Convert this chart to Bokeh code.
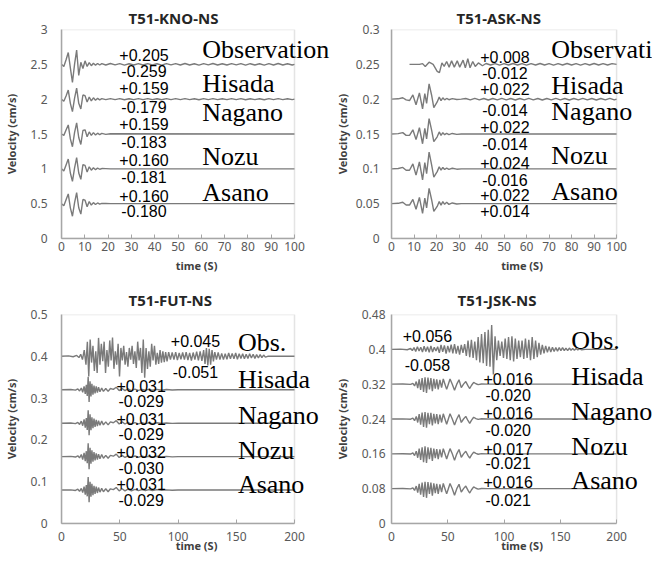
from bokeh.plotting import figure
from bokeh.layouts import column, row
from bokeh.models import Range1d, FixedTicker, Label, NumeralTickFormatter, BoxAnnotation
from bokeh.embed import file_html
from bokeh.resources import INLINE

# ---------------- common ----------------
trace_names = ["Observation", "Hisada", "Nagano", "Nozu", "Asano"]
trace_names_short = ["Obs.", "Hisada", "Nagano", "Nozu", "Asano"]

# ---------------- T51-KNO-NS ----------------
kno_xticks = [0, 10, 20, 30, 40, 50, 60, 70, 80, 90, 100]
kno_yticks = [0, 0.5, 1, 1.5, 2, 2.5, 3]
kno_base = [2.5, 2.0, 1.5, 1.0, 0.5]
kno_t = [0, 1.0, 2.0, 2.9, 3.8, 4.7, 5.6, 6.5, 7.4, 8.3, 9.2, 10.1, 11.0, 11.9, 12.8, 13.7, 14.6, 15.5, 16.4, 17.3]
kno_obs = [0, -0.03, 0.07, 0.17, -0.05, -0.259, 0.0, 0.205, -0.16, 0.03, -0.06, 0.05, -0.03, 0.025, -0.02, 0.015, -0.012, 0.012, -0.01, 0.01]
kno_hisada = [0, -0.03, 0.05, 0.13, -0.06, -0.179, 0.01, 0.159, -0.06, -0.14, 0.06, 0.05, -0.04, 0.03, -0.025, 0.02, -0.015, 0.012, -0.01, 0.008]
kno_nagano = [0, -0.02, 0.06, 0.13, -0.07, -0.183, 0.02, 0.159, -0.05, -0.15, 0.05, 0.06, -0.04, 0.03, -0.02, 0.02, -0.015, 0.012, -0.01, 0.008]
kno_nozu = [0, -0.03, 0.06, 0.14, -0.06, -0.181, 0.01, 0.160, -0.06, -0.15, 0.06, 0.05, -0.045, 0.03, -0.02, 0.015, -0.012, 0.01, -0.006, 0.004]
kno_asano = [0, -0.03, 0.06, 0.14, -0.06, -0.180, 0.01, 0.160, -0.06, -0.15, 0.06, 0.05, -0.045, 0.03, -0.02, 0.015, -0.012, 0.01, -0.006, 0.004]
kno_tail_t = [19, 21, 23, 25, 27, 29, 31, 33, 35, 37, 39, 41, 43, 45, 47, 49, 51, 53, 55, 57,
              59, 61, 63, 65, 67, 69, 71, 73, 75, 77, 79, 81, 83, 85, 87, 89, 91, 93, 95, 97, 99, 100]
kno_obs_tail = [-0.01, 0.012, -0.008, 0.01, -0.012, 0.008, -0.01, 0.01, -0.009, 0.011,
                -0.01, 0.008, -0.012, 0.01, -0.008, 0.01, -0.01, 0.012, -0.009, 0.008,
                -0.011, 0.01, -0.008, 0.012, -0.01, 0.009, -0.01, 0.011, -0.008, 0.01,
                -0.012, 0.009, -0.01, 0.008, -0.011, 0.01, -0.009, 0.012, -0.01, 0.008, -0.01, 0]
kno_hisada_tail = [-0.007, 0.008, -0.006, 0.007, -0.008, 0.006, -0.007, 0.007, -0.006, 0.008,
                   -0.007, 0.006, -0.008, 0.007, -0.006, 0.007, -0.007, 0.008, -0.006, 0.006,
                   -0.008, 0.007, -0.006, 0.008, -0.007, 0.006, -0.007, 0.008, -0.006, 0.007,
                   -0.008, 0.006, -0.007, 0.006, -0.008, 0.007, -0.006, 0.008, -0.007, 0.006, -0.007, 0]
kno_end_t = [19, 21, 100]
kno_nagano_end = [-0.006, 0.004, 0]
kno_nozu_end = [0.003, 0, 0]
kno_asano_end = [0.003, 0, 0]
kno_peak_text = ["+0.205", "-0.259", "+0.159", "-0.179", "+0.159", "-0.183", "+0.160", "-0.181", "+0.160", "-0.180"]
kno_peak_y = [2.635, 2.41, 2.16, 1.89, 1.645, 1.38, 1.13, 0.88, 0.617, 0.39]
kno_peak_x = [35.4] * 10
kno_name_y = [2.71, 2.23, 1.81, 1.18, 0.665]
kno_name_x = 60.4

# ---------------- T51-ASK-NS ----------------
ask_xticks = [0, 10, 20, 30, 40, 50, 60, 70, 80, 90, 100]
ask_yticks = [0, 0.05, 0.1, 0.15, 0.2, 0.25, 0.3]
ask_base = [0.25, 0.2, 0.15, 0.1, 0.05]
ask_obs_t = [8, 12.4, 13.8, 15.0, 16.7, 18.5, 20.3, 21.3, 22.4, 23.4,
             24.5, 25.6, 26.7, 27.9, 29.2, 30.3, 31.8, 32.8, 33.9, 34.9,
             36.1, 37.2, 38.6, 40.4, 42, 44, 46, 48, 50, 52,
             54, 56, 58, 60, 62, 64, 66, 68, 70, 72,
             74, 76, 78, 80, 82, 84, 86, 88, 90, 92,
             94, 96, 98, 100]
ask_obs = [0, 0, 0.001, -0.003, 0.003, 0.0, -0.010, -0.012, 0.002, -0.003,
           0.004, -0.004, 0.005, -0.004, 0.005, -0.004, 0.006, -0.005, 0.008, -0.005,
           0.004, -0.003, 0.002, -0.002, 0.0012, -0.001, 0.001, -0.0012, 0.001, -0.001,
           0.0012, -0.001, 0.001, -0.0012, 0.001, -0.001, 0.0012, -0.001, 0.001, -0.0012,
           0.001, -0.001, 0.0012, -0.001, 0.001, -0.0012, 0.001, -0.001, 0.0012, -0.001,
           0.001, -0.001, 0.001, 0]
ask_t = [0, 3, 5, 6.5, 8.0, 9.5, 10.9, 12.4, 13.8, 14.8,
         15.6, 16.7, 17.8, 18.8, 20.3, 21.2, 22.0, 22.8, 23.6, 24.5,
         25.5, 27, 29, 31]
ask_hisada = [0, 0.0005, 0.002, -0.001, -0.002, 0.006, -0.008, 0.009, -0.014, 0.008,
              -0.006, 0.022, 0.006, -0.012, -0.004, 0.003, -0.002, 0.002, -0.001, 0.001,
              -0.0008, 0.0008, -0.0005, 0]
ask_nagano = [0, 0.0005, 0.002, -0.002, -0.002, 0.006, -0.008, 0.009, -0.014, 0.008,
              -0.007, 0.022, 0.006, -0.011, -0.004, 0.003, -0.002, 0.002, -0.001, 0.001,
              -0.0008, 0.0008, -0.0005, 0]
ask_nozu = [0, 0.0005, 0.002, -0.002, -0.002, 0.007, -0.009, 0.010, -0.016, 0.009,
            -0.007, 0.024, 0.006, -0.012, -0.004, 0.003, -0.002, 0.002, -0.001, 0.001,
            -0.0008, 0.0008, -0.0005, 0]
ask_asano = [0, 0.0005, 0.002, -0.002, -0.002, 0.006, -0.008, 0.009, -0.014, 0.008,
             -0.006, 0.022, 0.006, -0.011, -0.004, 0.003, -0.002, 0.003, -0.001, 0.002,
             -0.001, 0.001, -0.0005, 0]
ask_tail_t = [33, 35, 37, 39, 41, 43, 45, 47, 49, 51, 53, 55, 57, 59, 61, 63, 65, 67, 69, 71,
              73, 75, 77, 79, 81, 83, 85, 87, 89, 91, 93, 95, 97, 99, 100]
ask_hisada_tail = [0.001, -0.001, 0.0012, -0.001, 0.001, -0.0012, 0.001, -0.001, 0.0012, -0.001,
                   0.001, -0.0012, 0.001, -0.001, 0.0012, -0.001, 0.001, -0.0012, 0.001, -0.001,
                   0.0012, -0.001, 0.001, -0.0012, 0.001, -0.001, 0.0012, -0.001, 0.001, -0.0012,
                   0.001, -0.001, 0.0012, -0.001, 0]
ask_end_t = [100]
ask_end = [0]
ask_peak_text = ["+0.008", "-0.012", "+0.022", "-0.014", "+0.022", "-0.014", "+0.024", "-0.016", "+0.022", "+0.014"]
ask_peak_y = [0.2605, 0.238, 0.214, 0.185, 0.160, 0.135, 0.109, 0.084, 0.063, 0.039]
ask_peak_x = [50.4] * 10
ask_name_y = [0.271, 0.22, 0.183, 0.119, 0.0676]
ask_name_x = 71

# ---------------- T51-FUT-NS ----------------
fut_xticks = [0, 50, 100, 150, 200]
fut_yticks = [0, 0.1, 0.2, 0.3, 0.4, 0.5]
fut_base = [0.4, 0.32, 0.24, 0.16, 0.08]
fut_obs_t = [0, 6, 10, 13, 15, 16.5, 18, 19.5, 21, 22.2,
             23.4, 24.6, 25.8, 27, 28.2, 29.4, 30.6, 31.8, 33, 34.2,
             35.4, 36.6, 37.8, 39, 40.2, 41.4, 42.6, 43.8, 45, 46.2,
             47.4, 48.6, 49.8, 51, 52.2, 53.4, 54.6, 55.8, 57, 58.2,
             59.4, 60.6, 61.8, 63, 64.2, 65.4, 66.6, 67.8, 69, 70.2,
             71.4, 72.6, 73.8, 75, 76.2, 77.4, 78.6, 79.8, 81, 82.2,
             83.4, 84.6, 85.8, 87, 88.2, 89.4, 90.6, 92, 93.5, 95,
             96.5, 98, 99.5, 101, 102.5, 104, 105.5, 107, 108.5, 110,
             111.5, 113, 114.5, 116, 117.5, 119, 120.5, 122, 123.2, 124.4,
             125.6, 126.8, 128, 129.2, 130.4, 131.6, 133, 134.5, 136, 137.5,
             139, 140.5, 142, 143.5, 145, 146.5, 148, 149.5, 151, 152.5,
             154, 155.5, 157, 158.5, 160, 161.5, 163, 164.5, 166, 167.5,
             169, 170.5, 172, 173.5, 175, 177, 200]
fut_obs = [0, 0.001, -0.001, 0.002, -0.003, 0.005, -0.008, 0.015, -0.02, 0.035,
           -0.048, 0.04, -0.015, 0.025, -0.035, 0.012, -0.04, 0.044, -0.02, 0.03,
           -0.012, 0.035, -0.04, 0.015, -0.025, 0.038, -0.01, 0.045, -0.03, 0.012,
           -0.02, 0.03, -0.048, 0.02, -0.01, 0.025, -0.02, 0.01, -0.025, 0.02,
           -0.008, 0.025, -0.018, 0.012, -0.028, 0.035, -0.01, 0.02, -0.04, 0.04,
           -0.051, 0.02, -0.03, 0.012, -0.025, 0.03, -0.01, 0.025, -0.02, 0.008,
           -0.018, 0.015, -0.015, 0.012, -0.014, 0.01, -0.012, 0.01, -0.008, 0.009,
           -0.008, 0.01, -0.009, 0.008, -0.007, 0.009, -0.008, 0.01, -0.009, 0.008,
           -0.01, 0.009, -0.008, 0.011, -0.01, 0.012, -0.011, 0.015, -0.018, 0.02,
           -0.022, 0.018, -0.02, 0.015, -0.012, 0.01, -0.008, 0.009, -0.008, 0.007,
           -0.008, 0.006, -0.007, 0.008, -0.006, 0.007, -0.006, 0.008, -0.007, 0.006,
           -0.005, 0.006, -0.006, 0.005, -0.005, 0.006, -0.004, 0.005, -0.005, 0.004,
           -0.004, 0.004, -0.003, 0.003, -0.002, 0, 0]
fut_t = [0, 8, 12, 14, 15.5, 17, 18.2, 19.4, 20.4, 21.3,
         22.1, 22.9, 23.7, 24.5, 25.3, 26.1, 27, 27.9, 28.8, 29.8,
         30.8, 31.8, 33, 34.5, 36, 38, 40, 42, 44.5, 47,
         49.5, 52, 54.5, 57, 60, 63, 66, 69, 72, 75,
         78, 82, 86, 90, 95, 100, 200]
fut_hisada = [0, 0.0005, -0.001, 0.002, -0.003, 0.004, -0.006, 0.008, -0.01, 0.012,
              -0.015, 0.031, -0.029, 0.02, -0.016, 0.014, -0.012, 0.01, -0.009, 0.008,
              -0.007, 0.006, -0.005, 0.004, -0.004, 0.003, -0.004, 0.003, 0.001, 0.006,
              -0.002, 0.003, -0.002, 0.002, -0.002, 0.0015, -0.0015, 0.001, -0.001, 0.001,
              -0.001, 0.001, -0.0008, 0.0005, -0.0005, 0, 0]
fut_nagano = [0, 0.0005, -0.001, 0.002, -0.003, 0.005, -0.006, 0.009, -0.011, 0.012,
              -0.016, 0.031, -0.029, 0.021, -0.017, 0.014, -0.012, 0.011, -0.009, 0.008,
              -0.007, 0.006, -0.005, 0.005, -0.004, 0.003, -0.004, 0.003, 0.001, 0.006,
              -0.002, 0.003, -0.002, 0.002, -0.002, 0.0015, -0.0015, 0.001, -0.001, 0.001,
              -0.001, 0.001, -0.0008, 0.0005, -0.0005, 0, 0]
fut_nozu = [0, 0.0005, -0.001, 0.002, -0.003, 0.005, -0.007, 0.009, -0.011, 0.013,
            -0.016, 0.032, -0.030, 0.021, -0.017, 0.015, -0.012, 0.011, -0.009, 0.008,
            -0.007, 0.006, -0.005, 0.005, -0.004, 0.003, -0.004, 0.003, 0.001, 0.006,
            -0.002, 0.003, -0.002, 0.002, -0.002, 0.0015, -0.0015, 0.001, -0.001, 0.001,
            -0.001, 0.001, -0.0008, 0.0005, -0.0005, 0, 0]
fut_asano = [0, 0.0005, -0.001, 0.002, -0.003, 0.004, -0.006, 0.008, -0.011, 0.012,
             -0.015, 0.031, -0.029, 0.02, -0.016, 0.015, -0.012, 0.01, -0.009, 0.008,
             -0.007, 0.006, -0.005, 0.004, -0.004, 0.003, -0.004, 0.003, 0.001, 0.006,
             -0.002, 0.003, -0.002, 0.002, -0.002, 0.0015, -0.0015, 0.001, -0.001, 0.001,
             -0.001, 0.001, -0.0008, 0.0005, -0.0005, 0, 0]
fut_peak_text = ["+0.045", "-0.051", "+0.031", "-0.029", "+0.031", "-0.029", "+0.032", "-0.030", "+0.031", "-0.029"]
fut_peak_x = [115, 115, 68.4, 68.4, 68.4, 68.4, 68.4, 68.4, 68.4, 68.4]
fut_peak_y = [0.436, 0.363, 0.329, 0.292, 0.250, 0.213, 0.171, 0.133, 0.0936, 0.0555]
fut_name_y = [0.432, 0.345, 0.258, 0.1745, 0.094]
fut_name_x = 151.4

# ---------------- T51-JSK-NS ----------------
jsk_xticks = [0, 50, 100, 150, 200]
jsk_yticks = [0, 0.08, 0.16, 0.24, 0.32, 0.4, 0.48]
jsk_base = [0.4, 0.32, 0.24, 0.16, 0.08]
jsk_obs_t = [0, 8, 14, 17, 18.5, 20, 21.5, 23, 24.5, 26,
             27.5, 29, 30.5, 32, 33.5, 35, 36.5, 38, 39.5, 41,
             42.5, 44, 45.5, 47, 48.5, 50, 51.5, 53, 54.5, 56,
             57.5, 59, 60.5, 62, 63.5, 65, 66.5, 68, 69.5, 71,
             72.5, 74, 75.5, 77, 78.5, 80, 81.5, 83, 84.5, 86,
             87.5, 89, 90.5, 92, 93.5, 95, 96.5, 98, 99.5, 101,
             102.5, 104, 105.5, 107, 108.5, 110, 111.5, 113, 114.5, 116,
             117.5, 119, 120.5, 122, 123.5, 125, 126.5, 128, 129.5, 131,
             132.5, 134, 135.5, 137, 138.5, 140, 141.5, 143, 144.5, 146,
             147.5, 149, 150.5, 152, 153.5, 155, 156.5, 158, 159.5, 161,
             162.5, 164, 165.5, 167, 169, 172, 200]
jsk_obs = [0, 0.0005, -0.001, 0.002, -0.003, 0.004, -0.005, 0.006, -0.004, 0.005,
           -0.006, 0.007, -0.005, 0.006, -0.007, 0.008, -0.006, 0.005, -0.004, 0.006,
           -0.008, 0.01, -0.006, 0.009, -0.01, 0.008, -0.007, 0.011, -0.009, 0.012,
           -0.01, 0.008, -0.012, 0.01, -0.008, 0.012, -0.015, 0.02, -0.018, 0.022,
           -0.02, 0.018, -0.025, 0.028, -0.03, 0.035, -0.032, 0.04, -0.038, 0.045,
           -0.04, 0.056, -0.058, 0.03, -0.025, 0.02, -0.015, 0.018, -0.02, 0.025,
           -0.022, 0.028, -0.025, 0.03, -0.028, 0.025, -0.022, 0.02, -0.018, 0.02,
           -0.022, 0.025, -0.02, 0.022, -0.025, 0.028, -0.022, 0.02, -0.018, 0.015,
           -0.012, 0.01, -0.009, 0.008, -0.007, 0.006, -0.006, 0.005, -0.005, 0.004,
           -0.004, 0.004, -0.003, 0.004, -0.003, 0.003, -0.003, 0.003, -0.002, 0.002,
           -0.002, 0.002, -0.0015, 0.001, -0.001, 0, 0]
jsk_t = [0, 10, 17, 19, 20.5, 22, 23.3, 24.6, 25.9, 27.2,
         28.5, 29.8, 31.1, 32.4, 33.7, 35, 36.3, 37.6, 38.9, 40.2,
         41.5, 43, 44.5, 46, 47.5, 49, 50.5, 52, 54, 56,
         58, 60, 62, 64, 66, 68, 69.5, 71, 73, 75,
         77, 80, 85, 200]
jsk_hisada = [0, 0.0003, -0.0005, 0.002, -0.004, 0.006, -0.009, 0.011, -0.013, 0.014,
              -0.018, 0.016, -0.02, 0.015, -0.012, 0.014, -0.016, 0.012, -0.01, 0.011,
              -0.012, 0.01, -0.008, 0.012, 0.0, -0.012, 0.0, 0.012, 0.0, -0.014,
              0.0, 0.01, -0.008, 0.0, 0.006, -0.004, -0.01, -0.003, 0.004, 0.001,
              -0.001, 0.0005, 0, 0]
jsk_nagano = [0, 0.0003, -0.0005, 0.002, -0.004, 0.006, -0.008, 0.011, -0.013, 0.015,
              -0.018, 0.016, -0.02, 0.014, -0.012, 0.014, -0.015, 0.012, -0.01, 0.011,
              -0.012, 0.01, -0.008, 0.012, 0.0, -0.012, 0.0, 0.012, 0.0, -0.014,
              0.0, 0.01, -0.008, 0.0, 0.006, -0.004, -0.01, -0.003, 0.004, 0.001,
              -0.001, 0.0005, 0, 0]
jsk_nozu = [0, 0.0003, -0.0005, 0.002, -0.004, 0.006, -0.009, 0.012, -0.014, 0.015,
            -0.019, 0.017, -0.021, 0.015, -0.012, 0.014, -0.016, 0.012, -0.01, 0.011,
            -0.012, 0.01, -0.008, 0.012, 0.0, -0.012, 0.0, 0.012, 0.0, -0.015,
            0.0, 0.01, -0.008, 0.0, 0.006, -0.004, -0.01, -0.003, 0.004, 0.001,
            -0.001, 0.0005, 0, 0]
jsk_asano = [0, 0.0003, -0.0005, 0.002, -0.004, 0.006, -0.009, 0.011, -0.014, 0.014,
             -0.019, 0.016, -0.021, 0.015, -0.012, 0.014, -0.016, 0.012, -0.01, 0.011,
             -0.012, 0.01, -0.008, 0.012, 0.0, -0.012, 0.0, 0.012, 0.0, -0.015,
             0.0, 0.01, -0.008, 0.0, 0.006, -0.004, -0.01, -0.003, 0.004, 0.001,
             -0.001, 0.0005, 0, 0]
jsk_peak_text = ["+0.056", "-0.058", "+0.016", "-0.020", "+0.016", "-0.020", "+0.017", "-0.021", "+0.016", "-0.021"]
jsk_peak_x = [31.9, 31.9, 103.7, 103.7, 103.7, 103.7, 103.7, 103.7, 103.7, 103.7]
jsk_peak_y = [0.4306, 0.364, 0.332, 0.295, 0.253, 0.2145, 0.172, 0.138, 0.0957, 0.055]
jsk_name_y = [0.42, 0.337, 0.2566, 0.176, 0.0995]
jsk_name_x = 159.8

# ---------------- styling ----------------
TRACE = "#7a7a7a"
FRAME = "#a6a6a6"
TICKTXT = "#595959"


def make_panel(title, w, h, xmax, ymax, xticks, yticks, left, top, bottom, frame_w,
               title_offset, title_standoff, x_stand, x_lab_stand, y_stand, y_lab_stand):
    # the plotting frame runs to the right edge of the canvas so that the
    # curve names may run past the boxed 0..xmax region, as in the original
    x_end = xmax * (w - left) / frame_w
    p = figure(width=w, height=h, x_range=Range1d(0, x_end), y_range=Range1d(0, ymax),
               output_backend="svg", toolbar_location=None, title=title,
               min_border_left=left, min_border_right=0,
               min_border_top=top, min_border_bottom=bottom)
    p.grid.visible = False
    p.outline_line_color = None
    p.background_fill_color = "white"
    p.border_fill_color = "white"
    p.add_layout(BoxAnnotation(left=0, right=xmax, bottom=0, top=ymax,
                               fill_color=None, line_color=FRAME, line_width=1.5))
    p.title.align = "left"
    p.title.offset = title_offset
    p.title.text_font = "Noto Sans"
    p.title.text_font_size = "15px"
    p.title.text_font_style = "bold"
    p.title.text_color = "#262626"
    p.title.standoff = title_standoff

    xa = p.xaxis[0]
    xa.ticker = FixedTicker(ticks=xticks)
    xa.bounds = (0, xmax)
    xa.axis_line_color = FRAME
    xa.axis_line_width = 1.5
    xa.major_tick_in = 4
    xa.major_tick_out = 0
    xa.major_tick_line_color = FRAME
    xa.minor_tick_line_color = None
    xa.major_label_standoff = x_stand
    xa.major_label_text_font = "Noto Sans"
    xa.major_label_text_font_size = "12px"
    xa.major_label_text_color = TICKTXT
    xa.axis_label = "time (S)"
    xa.axis_label_standoff = x_lab_stand
    xa.axis_label_text_font = "Noto Sans"
    xa.axis_label_text_font_size = "11px"
    xa.axis_label_text_font_style = "bold"
    xa.axis_label_text_color = "#404040"

    ya = p.yaxis[0]
    ya.ticker = FixedTicker(ticks=yticks)
    ya.formatter = NumeralTickFormatter(format="0.[00]")
    ya.axis_line_color = FRAME
    ya.axis_line_width = 1.5
    ya.major_tick_in = 0
    ya.major_tick_out = 0
    ya.major_tick_line_color = None
    ya.minor_tick_line_color = None
    ya.major_label_standoff = y_stand
    ya.major_label_text_font = "Noto Sans"
    ya.major_label_text_font_size = "12px"
    ya.major_label_text_color = TICKTXT
    ya.axis_label = "Velocity (cm/s)"
    ya.axis_label_standoff = y_lab_stand
    ya.axis_label_text_font = "Noto Sans"
    ya.axis_label_text_font_size = "11px"
    ya.axis_label_text_font_style = "bold"
    ya.axis_label_text_color = "#404040"
    return p


def add_trace(p, t, v, base):
    n = min(len(t), len(v))
    p.line(t[:n], [base + a for a in v[:n]], line_color=TRACE, line_width=1.4)


def add_texts(p, peak_x, peak_y, peak_text, name_x, name_y, names):
    for x, y, s in zip(peak_x, peak_y, peak_text):
        p.add_layout(Label(x=x, y=y, text=s, text_align="center", text_baseline="middle",
                           text_font="Liberation Sans", text_font_size="16px",
                           text_color="black"))
    for y, s in zip(name_y, names):
        p.add_layout(Label(x=name_x, y=y, text=s, text_align="left", text_baseline="middle",
                           text_font="Liberation Serif", text_font_size="26px",
                           text_color="black"))


W1, W2 = 331, 321
H1, H2 = 280, 287

# Panel 1
p1 = make_panel("T51-KNO-NS", W1, H1, 100, 3, kno_xticks, kno_yticks, 61, 29, 42, 233,
                67, 4, 3, 4, 14, 9)
add_trace(p1, kno_t + kno_tail_t, kno_obs + kno_obs_tail, kno_base[0])
add_trace(p1, kno_t + kno_tail_t, kno_hisada + kno_hisada_tail, kno_base[1])
add_trace(p1, kno_t + kno_end_t, kno_nagano + kno_nagano_end, kno_base[2])
add_trace(p1, kno_t + kno_end_t, kno_nozu + kno_nozu_end, kno_base[3])
add_trace(p1, kno_t + kno_end_t, kno_asano + kno_asano_end, kno_base[4])
add_texts(p1, kno_peak_x, kno_peak_y, kno_peak_text, kno_name_x, kno_name_y, trace_names)

# Panel 2
p2 = make_panel("T51-ASK-NS", W2, H1, 100, 0.3, ask_xticks, ask_yticks, 52, 29, 42, 232,
                65, 4, 3, 4, 12, 3)
add_trace(p2, ask_obs_t, ask_obs, ask_base[0])
add_trace(p2, ask_t + ask_tail_t, ask_hisada + ask_hisada_tail, ask_base[1])
add_trace(p2, ask_t + ask_end_t, ask_nagano + ask_end, ask_base[2])
add_trace(p2, ask_t + ask_end_t, ask_nozu + ask_end, ask_base[3])
add_trace(p2, ask_t + ask_end_t, ask_asano + ask_end, ask_base[4])
add_texts(p2, ask_peak_x, ask_peak_y, ask_peak_text, ask_name_x, ask_name_y, trace_names)

# Panel 3
p3 = make_panel("T51-FUT-NS", W1, H2, 200, 0.5, fut_xticks, fut_yticks, 61, 33, 44, 233,
                67, 9, 8, -6, 14, 9)
add_trace(p3, fut_obs_t, fut_obs, fut_base[0])
add_trace(p3, fut_t, fut_hisada, fut_base[1])
add_trace(p3, fut_t, fut_nagano, fut_base[2])
add_trace(p3, fut_t, fut_nozu, fut_base[3])
add_trace(p3, fut_t, fut_asano, fut_base[4])
add_texts(p3, fut_peak_x, fut_peak_y, fut_peak_text, fut_name_x, fut_name_y, trace_names_short)

# Panel 4
p4 = make_panel("T51-JSK-NS", W2, H2, 200, 0.48, jsk_xticks, jsk_yticks, 52, 34, 44, 232,
                66, 9, 8, -6, 6, 9)
add_trace(p4, jsk_obs_t, jsk_obs, jsk_base[0])
add_trace(p4, jsk_t, jsk_hisada, jsk_base[1])
add_trace(p4, jsk_t, jsk_nagano, jsk_base[2])
add_trace(p4, jsk_t, jsk_nozu, jsk_base[3])
add_trace(p4, jsk_t, jsk_asano, jsk_base[4])
add_texts(p4, jsk_peak_x, jsk_peak_y, jsk_peak_text, jsk_name_x, jsk_name_y, trace_names_short)

layout = column(row(p1, p2), row(p3, p4))

open("out.html", "w").write(file_html(layout, INLINE))
